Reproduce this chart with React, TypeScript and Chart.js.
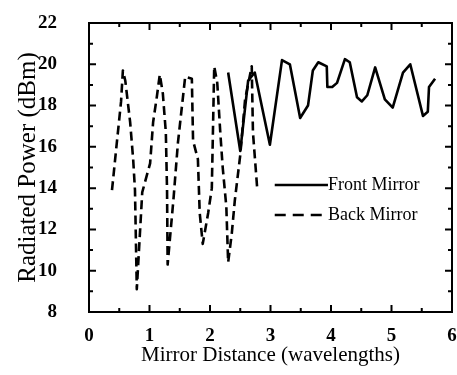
import React, { useEffect, useRef } from 'react';
import { Chart, registerables } from 'chart.js';
Chart.register(...registerables);

const frontX = [2.30, 2.50, 2.63, 2.74, 2.99, 3.19, 3.32, 3.49, 3.62, 3.70, 3.79, 3.93, 3.94, 4.02, 4.10, 4.23, 4.31, 4.43, 4.51, 4.60, 4.73, 4.89, 5.02, 5.14, 5.19, 5.31, 5.52, 5.60, 5.62, 5.72];
const frontY = [19.6, 15.8, 19.2, 19.6, 16.1, 20.2, 20.0, 17.4, 18.0, 19.7, 20.1, 19.9, 18.9, 18.9, 19.1, 20.25, 20.1, 18.4, 18.2, 18.5, 19.85, 18.3, 17.9, 19.1, 19.6, 20.0, 17.5, 17.7, 18.9, 19.3];

const backX = [0.38, 0.46, 0.53, 0.56, 0.60, 0.68, 0.73, 0.76, 0.79, 0.88, 1.01, 1.06, 1.12, 1.17, 1.22, 1.27, 1.29, 1.30, 1.40, 1.47, 1.59, 1.70, 1.72, 1.80, 1.83, 1.88, 1.97, 2.03, 2.07, 2.12, 2.17, 2.21, 2.27, 2.30, 2.36, 2.41, 2.50, 2.58, 2.69, 2.71, 2.78];
const backY = [13.9, 16.2, 18.2, 19.7, 19.2, 17.2, 15.4, 13.9, 9.1, 13.8, 15.2, 17.2, 18.4, 19.5, 18.6, 16.7, 13.9, 10.3, 13.6, 16.2, 19.4, 19.3, 16.3, 15.4, 12.8, 11.3, 12.8, 14.0, 19.9, 19.1, 16.7, 15.0, 13.1, 10.4, 11.8, 13.4, 15.6, 18.3, 19.9, 16.7, 14.0];

const xTicks = [0, 1, 2, 3, 4, 5, 6];
const yTicks = [8, 10, 12, 14, 16, 18, 20, 22];
const seriesNames = ['Front Mirror', 'Back Mirror'];
const xTitle = 'Mirror Distance (wavelengths)';
const yTitle = 'Radiated Power (dBm)';

const SERIF = '"Liberation Serif", "Times New Roman", serif';

const framePlugin = {
  id: 'frame',
  afterDraw(chart: any) {
    const { ctx, chartArea: a, scales } = chart;
    const xs = scales.x;
    const ys = scales.y;
    ctx.save();
    ctx.strokeStyle = '#000';
    ctx.lineWidth = 2;
    ctx.strokeRect(a.left, a.top, a.right - a.left, a.bottom - a.top);
    ctx.beginPath();
    for (let i = 0; i < xTicks.length; i++) {
      const v = xTicks[i];
      const px = xs.getPixelForValue(v);
      ctx.moveTo(px, a.bottom); ctx.lineTo(px, a.bottom - 7);
      ctx.moveTo(px, a.top); ctx.lineTo(px, a.top + 7);
      if (i < xTicks.length - 1) {
        const m = xs.getPixelForValue((v + xTicks[i + 1]) / 2);
        ctx.moveTo(m, a.bottom); ctx.lineTo(m, a.bottom - 4);
        ctx.moveTo(m, a.top); ctx.lineTo(m, a.top + 4);
      }
    }
    for (let i = 0; i < yTicks.length; i++) {
      const v = yTicks[i];
      const py = ys.getPixelForValue(v);
      ctx.moveTo(a.left, py); ctx.lineTo(a.left + 7, py);
      ctx.moveTo(a.right, py); ctx.lineTo(a.right - 7, py);
      if (i < yTicks.length - 1) {
        const m = ys.getPixelForValue((v + yTicks[i + 1]) / 2);
        ctx.moveTo(a.left, m); ctx.lineTo(a.left + 4, m);
        ctx.moveTo(a.right, m); ctx.lineTo(a.right - 4, m);
      }
    }
    ctx.stroke();

    // legend
    const lx0 = xs.getPixelForValue(3.07);
    const lx1 = xs.getPixelForValue(3.95);
    const rows = [ys.getPixelForValue(14.15), ys.getPixelForValue(12.7)];
    ctx.font = '18px ' + SERIF;
    ctx.fillStyle = '#000';
    ctx.textBaseline = 'middle';
    ctx.textAlign = 'left';
    rows.forEach((ry, k) => {
      ctx.beginPath();
      ctx.lineWidth = 2.5;
      ctx.setLineDash(k === 0 ? [] : [11, 7]);
      ctx.moveTo(lx0, ry);
      ctx.lineTo(lx1, ry);
      ctx.stroke();
      ctx.setLineDash([]);
      ctx.fillText(seriesNames[k], lx1, ry);
    });
    ctx.restore();
  },
};

export default function App() {
  const ref = useRef<HTMLCanvasElement>(null);
  useEffect(() => {
    if (!ref.current) return;
    const chart = new Chart(ref.current, {
      type: 'scatter',
      data: {
        datasets: [
          {
            label: seriesNames[0],
            data: frontX.map((x, i) => ({ x, y: frontY[i] })),
            showLine: true,
            borderColor: '#000',
            borderWidth: 2.6,
            borderJoinStyle: 'round',
            pointRadius: 0,
            tension: 0,
          },
          {
            label: seriesNames[1],
            data: backX.map((x, i) => ({ x, y: backY[i] })),
            showLine: true,
            borderColor: '#000',
            borderWidth: 2.6,
            borderJoinStyle: 'round',
            borderDash: [9, 5],
            pointRadius: 0,
            tension: 0,
          },
        ],
      },
      options: {
        animation: false,
        responsive: false,
        layout: { padding: { top: 23, right: 5, left: 0, bottom: 0 } },
        plugins: { legend: { display: false }, tooltip: { enabled: false } },
        scales: {
          x: {
            type: 'linear',
            min: 0,
            max: 6,
            afterFit: (s: any) => { s.height = 63; s.paddingLeft = 0; s.paddingRight = 0; },
            afterBuildTicks: (s: any) => { s.ticks = xTicks.map((v) => ({ value: v })); },
            grid: { display: false },
            border: { display: false },
            ticks: { color: '#000', padding: 5, maxRotation: 0, font: { family: SERIF, size: 19, weight: 'bold' } },
            title: { display: true, text: xTitle, color: '#000', padding: { top: 0, bottom: 7 }, font: { family: SERIF, size: 21 } },
          },
          y: {
            type: 'linear',
            min: 8,
            max: 22,
            afterFit: (s: any) => { s.width = 89; s.paddingTop = 0; s.paddingBottom = 0; },
            afterBuildTicks: (s: any) => { s.ticks = yTicks.map((v) => ({ value: v })); },
            grid: { display: false },
            border: { display: false },
            ticks: { color: '#000', padding: 24, font: { family: SERIF, size: 19, weight: 'bold' } },
            title: { display: true, text: yTitle, color: '#000', padding: { top: 13, bottom: 0 }, font: { family: SERIF, size: 25 } },
          },
        },
      },
      plugins: [framePlugin],
    });
    return () => chart.destroy();
  }, []);
  return (
    <div style={{ position: 'absolute', left: 0, top: 0, width: 457, height: 375, background: '#fff' }}>
      <canvas ref={ref} width={457} height={375} />
    </div>
  );
}
